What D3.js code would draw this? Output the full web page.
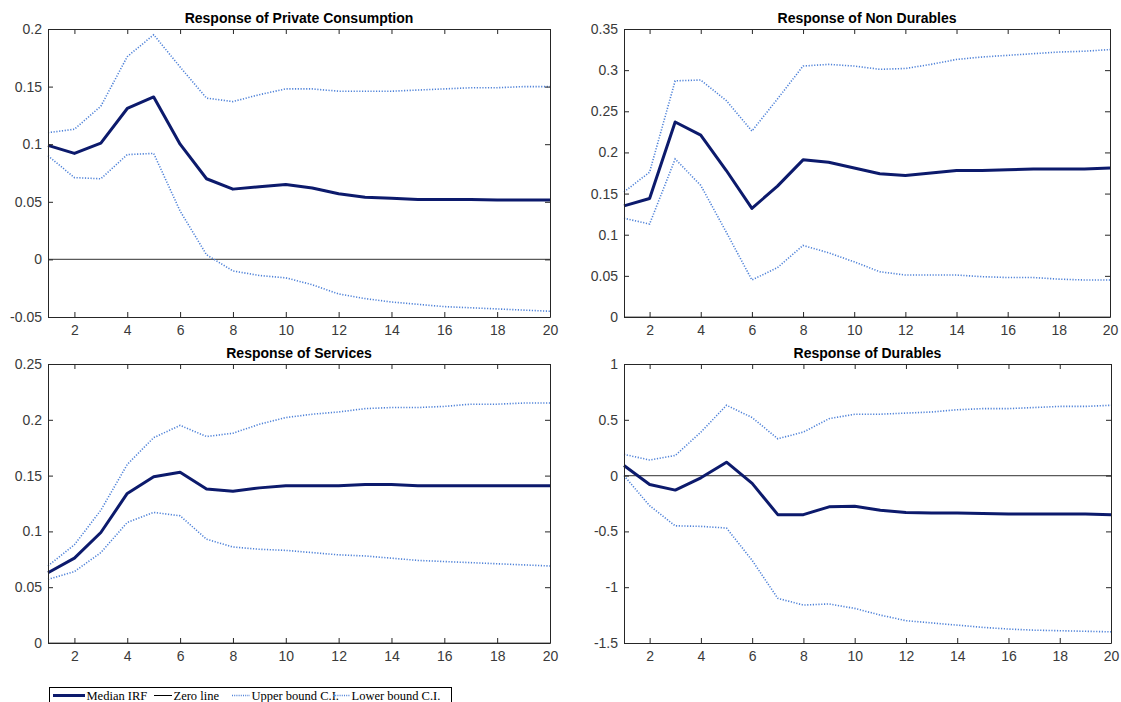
<!DOCTYPE html>
<html>
<head>
<meta charset="utf-8">
<script src="https://cdn.jsdelivr.net/npm/d3@7"></script>
<style>
	body { margin: 0; background: #fff; }
	svg { display: block; }
	.panel-title { font-family: "Liberation Sans", Arial, sans-serif; font-size: 14px; font-weight: bold; fill: #000; }
	.legend text { font-family: "Liberation Serif", "Times New Roman", serif; font-size: 12.5px; fill: #000; }
</style>
</head>
<body>
<div id="chart"></div>
<script>
// horizons
let steps = d3.range(1, 21);
let xTicks = [2, 4, 6, 8, 10, 12, 14, 16, 18, 20];

// Private Consumption
let consMedian = [0.099, 0.092, 0.101, 0.131, 0.141, 0.100, 0.070, 0.061, 0.063, 0.065, 0.062, 0.057, 0.054, 0.053, 0.052, 0.052, 0.052, 0.0515, 0.0515, 0.0515];
let consUpper = [0.110, 0.113, 0.133, 0.176, 0.195, 0.167, 0.140, 0.137, 0.143, 0.148, 0.148, 0.146, 0.146, 0.146, 0.147, 0.148, 0.149, 0.149, 0.150, 0.150];
let consLower = [0.090, 0.071, 0.070, 0.091, 0.092, 0.042, 0.004, -0.010, -0.014, -0.016, -0.022, -0.030, -0.034, -0.037, -0.039, -0.041, -0.042, -0.043, -0.044, -0.045];
let consTicks = [-0.05, 0, 0.05, 0.1, 0.15, 0.2];

// Non Durables
let nondurMedian = [0.135, 0.144, 0.237, 0.221, 0.178, 0.132, 0.159, 0.191, 0.188, 0.181, 0.174, 0.172, 0.175, 0.178, 0.178, 0.179, 0.180, 0.180, 0.180, 0.181];
let nondurUpper = [0.152, 0.176, 0.287, 0.288, 0.263, 0.226, 0.265, 0.305, 0.307, 0.305, 0.301, 0.302, 0.307, 0.313, 0.316, 0.318, 0.320, 0.322, 0.323, 0.325];
let nondurLower = [0.120, 0.113, 0.192, 0.160, 0.103, 0.045, 0.060, 0.087, 0.078, 0.067, 0.055, 0.051, 0.051, 0.051, 0.049, 0.048, 0.048, 0.046, 0.045, 0.045];
let nondurTicks = [0, 0.05, 0.1, 0.15, 0.2, 0.25, 0.3, 0.35];

// Services
let servMedian = [0.063, 0.076, 0.099, 0.134, 0.149, 0.153, 0.138, 0.136, 0.139, 0.141, 0.141, 0.141, 0.142, 0.142, 0.141, 0.141, 0.141, 0.141, 0.141, 0.141];
let servUpper = [0.069, 0.088, 0.119, 0.160, 0.184, 0.195, 0.185, 0.188, 0.196, 0.202, 0.205, 0.207, 0.210, 0.211, 0.211, 0.212, 0.214, 0.214, 0.215, 0.215];
let servLower = [0.057, 0.064, 0.081, 0.108, 0.117, 0.114, 0.093, 0.086, 0.084, 0.083, 0.081, 0.079, 0.078, 0.076, 0.074, 0.073, 0.072, 0.071, 0.070, 0.069];
let servTicks = [0, 0.05, 0.1, 0.15, 0.2, 0.25];

// Durables
let durMedian = [0.09, -0.08, -0.13, -0.02, 0.12, -0.07, -0.35, -0.35, -0.28, -0.275, -0.31, -0.33, -0.335, -0.335, -0.34, -0.345, -0.345, -0.345, -0.345, -0.35];
let durUpper = [0.19, 0.14, 0.18, 0.39, 0.63, 0.52, 0.33, 0.39, 0.51, 0.55, 0.55, 0.56, 0.57, 0.59, 0.60, 0.60, 0.61, 0.62, 0.62, 0.63];
let durLower = [0.00, -0.27, -0.45, -0.455, -0.47, -0.76, -1.10, -1.16, -1.15, -1.19, -1.25, -1.30, -1.32, -1.34, -1.36, -1.375, -1.385, -1.39, -1.395, -1.40];
let durTicks = [-1.5, -1, -0.5, 0, 0.5, 1];

let titles = ["Response of Private Consumption", "Response of Non Durables", "Response of Services", "Response of Durables"];
let legendLabels = ["Median IRF", "Zero line", "Upper bound C.I.", "Lower bound C.I."];

let panels = [
	{ title: titles[0], median: consMedian, upper: consUpper, lower: consLower, ticks: consTicks },
	{ title: titles[1], median: nondurMedian, upper: nondurUpper, lower: nondurLower, ticks: nondurTicks },
	{ title: titles[2], median: servMedian, upper: servUpper, lower: servLower, ticks: servTicks },
	{ title: titles[3], median: durMedian, upper: durUpper, lower: durLower, ticks: durTicks },
];

// plot boxes in page pixels
let boxes = [
	{ left: 48, right: 550, top: 29, bottom: 317 },
	{ left: 624, right: 1110, top: 29, bottom: 317 },
	{ left: 48, right: 550, top: 364, bottom: 643 },
	{ left: 624, right: 1111, top: 364, bottom: 643 },
];

let width = 1121;
let height = 702;

let medianColor = "#0c1a6c";
let ciColor = "#4f82d8";
let axisColor = "#262626";
let labelColor = "#3a3a3a";

let fmt = (d) => String(+d.toFixed(2));

let svg = d3
	.select("#chart")
	.append("svg")
	.attr("width", width)
	.attr("height", height)
	.attr("viewBox", [0, 0, width, height]);

function styleAxis(g, showLabels) {
	g.attr("font-family", "'Liberation Sans', Arial, sans-serif").attr("font-size", 14);
	g.select(".domain").attr("stroke", axisColor).attr("stroke-width", 1);
	g.selectAll(".tick line").attr("stroke", axisColor).attr("stroke-width", 1);
	g.selectAll(".tick text").attr("fill", labelColor);
	if (!showLabels) g.selectAll(".tick text").remove();
}

panels.forEach(function (p, i) {
	let b = boxes[i];
	let x = d3.scaleLinear().domain([1, 20]).range([b.left, b.right]);
	let y = d3
		.scaleLinear()
		.domain(d3.extent(p.ticks))
		.range([b.bottom, b.top]);

	let g = svg.append("g");

	let line = (vals) =>
		d3
			.line()
			.x((d, k) => x(steps[k]))
			.y((d) => y(d))(vals);

	// zero line
	g.append("line")
		.attr("x1", x(1))
		.attr("x2", x(20))
		.attr("y1", y(0))
		.attr("y2", y(0))
		.attr("stroke", "#5a5a5a")
		.attr("stroke-width", 1.2);

	// confidence bounds
	[p.upper, p.lower].forEach(function (vals) {
		g.append("path")
			.attr("d", line(vals))
			.attr("fill", "none")
			.attr("stroke", ciColor)
			.attr("stroke-width", 1.6)
			.attr("stroke-dasharray", "1.2,1.6");
	});

	// median
	g.append("path")
		.attr("d", line(p.median))
		.attr("fill", "none")
		.attr("stroke", medianColor)
		.attr("stroke-width", 3)
		.attr("stroke-linejoin", "round");

	// axes, box with inward ticks
	g.append("g")
		.attr("transform", "translate(0," + b.bottom + ")")
		.call(d3.axisBottom(x).tickValues(xTicks).tickSizeInner(-5).tickSizeOuter(0).tickPadding(8).tickFormat(fmt))
		.call((a) => styleAxis(a, true));

	g.append("g")
		.attr("transform", "translate(0," + b.top + ")")
		.call(d3.axisTop(x).tickValues(xTicks).tickSizeInner(-5).tickSizeOuter(0))
		.call((a) => styleAxis(a, false));

	g.append("g")
		.attr("transform", "translate(" + b.left + ",0)")
		.call(d3.axisLeft(y).tickValues(p.ticks).tickSizeInner(-5).tickSizeOuter(0).tickPadding(6).tickFormat(fmt))
		.call((a) => styleAxis(a, true));

	g.append("g")
		.attr("transform", "translate(" + b.right + ",0)")
		.call(d3.axisRight(y).tickValues(p.ticks).tickSizeInner(-5).tickSizeOuter(0))
		.call((a) => styleAxis(a, false));

	g.append("text")
		.attr("class", "panel-title")
		.attr("x", (b.left + b.right) / 2)
		.attr("y", b.top - 6)
		.attr("text-anchor", "middle")
		.text(p.title);
});

// legend
let legend = svg.append("g").attr("class", "legend");

legend
	.append("rect")
	.attr("x", 49.5)
	.attr("y", 687.5)
	.attr("width", 402)
	.attr("height", 22)
	.attr("fill", "#fff")
	.attr("stroke", "#000")
	.attr("stroke-width", 1);

let legendItems = [
	{ x1: 53, x2: 85, color: medianColor, width: 3, dash: null },
	{ x1: 154, x2: 172, color: "#000", width: 1, dash: null },
	{ x1: 232, x2: 250, color: ciColor, width: 1.4, dash: "1,1.2" },
	{ x1: 333, x2: 350, color: ciColor, width: 1.4, dash: "1,1.2" },
];

legendLabels.forEach(function (label, i) {
	let it = legendItems[i];
	legend
		.append("line")
		.attr("x1", it.x1)
		.attr("x2", it.x2)
		.attr("y1", 695.5)
		.attr("y2", 695.5)
		.attr("stroke", it.color)
		.attr("stroke-width", it.width)
		.attr("stroke-dasharray", it.dash);
	legend
		.append("text")
		.attr("x", it.x2 + 1.5)
		.attr("y", 699.5)
		.text(label);
});
</script>
</body>
</html>
